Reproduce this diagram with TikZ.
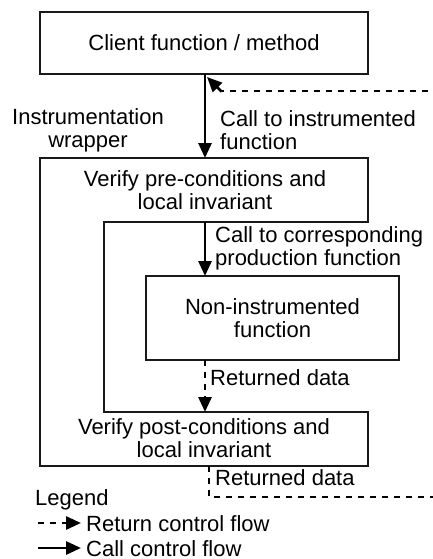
\documentclass[tikz,border=0pt]{standalone}
\usepackage{fontspec}
\setmainfont{Liberation Sans}
\usetikzlibrary{arrows.meta}
\begin{document}
\begin{tikzpicture}[x=1pt,y=-1pt,
  every node/.style={font=\fontsize{22}{23}\selectfont, inner sep=0pt},
  boxline/.style={line width=2.8pt, draw=black!90},
  callflow/.style={line width=2.8pt, -{Triangle[length=15pt,width=13pt]}},
  retline/.style={line width=2.8pt, dash pattern=on 6pt off 6pt},
  retflow/.style={retline, -{Triangle[length=15pt,width=13pt]}},
  lbl/.style={align=left, anchor=west}]
\useasboundingbox (0,0) rectangle (433,559);
\clip (0,0) rectangle (433,559);
% client box
\node[boxline, draw, minimum width=328pt, minimum height=62pt] (client) at (204,43) {Client function / method};
% wrapper polygon
\draw[boxline, line join=miter] (40,158) -- (368,158) -- (368,222) -- (104,222) -- (104,412) -- (368,412) -- (368,466) -- (40,466) -- cycle;
\coordinate (wraptop) at (205,158);
\coordinate (prebot) at (205,222);
\coordinate (posttop) at (205,412);
\coordinate (postbot) at (209,466);
\coordinate (retcorner) at (209,497);
\coordinate (retend) at (440,497);
\coordinate (topret) at (440,91);
\coordinate (topretb) at (221,91);
\coordinate (clienthit) at (207,77);
\node[align=center] (pre) at (205,190) {Verify pre-conditions and\\local invariant};
\node[align=center] (post) at (204,438) {Verify post-conditions and\\local invariant};
% non-instrumented
\node[boxline, draw, minimum width=253pt, minimum height=84pt, align=center] (non) at (272.5,318) {Non-instrumented\\function};
\coordinate (nontop) at (205,276);
\coordinate (nonbot) at (205,360);
% labels
\node[align=center] (wrap) at (88,130) {Instrumentation\\wrapper};
\node[lbl] (callinst) at (220,130) {Call to instrumented\\function};
\node[lbl] (callprod) at (215,248) {Call to corresponding\\production function};
\node[lbl] (ret1) at (210,378) {Returned data};
\node[lbl] (ret2) at (215,478) {Returned data};
% connectors
\draw[callflow] (205,74) -- (wraptop);
\draw[retline] (topret) -- (topretb);
\draw[line width=2.8pt, -{Triangle[length=15pt,width=13pt]}, shorten <=-1pt] (topretb) -- (clienthit);
\draw[callflow] (prebot) -- (nontop);
\draw[retflow] (nonbot) -- (posttop);
\draw[retline] (postbot) -- (retcorner) -- (retend);
% legend
\node[lbl] (legend) at (35,500) {Legend};
\coordinate (l1a) at (38,523);
\coordinate (l1b) at (81,523);
\coordinate (l2a) at (38,548);
\coordinate (l2b) at (81,548);
\node[lbl] (lret) at (86,524) {Return control flow};
\node[lbl] (lcall) at (86,549) {Call control flow};
\draw[retflow] (l1a) -- (l1b);
\draw[callflow] (l2a) -- (l2b);
\end{tikzpicture}
\end{document}
